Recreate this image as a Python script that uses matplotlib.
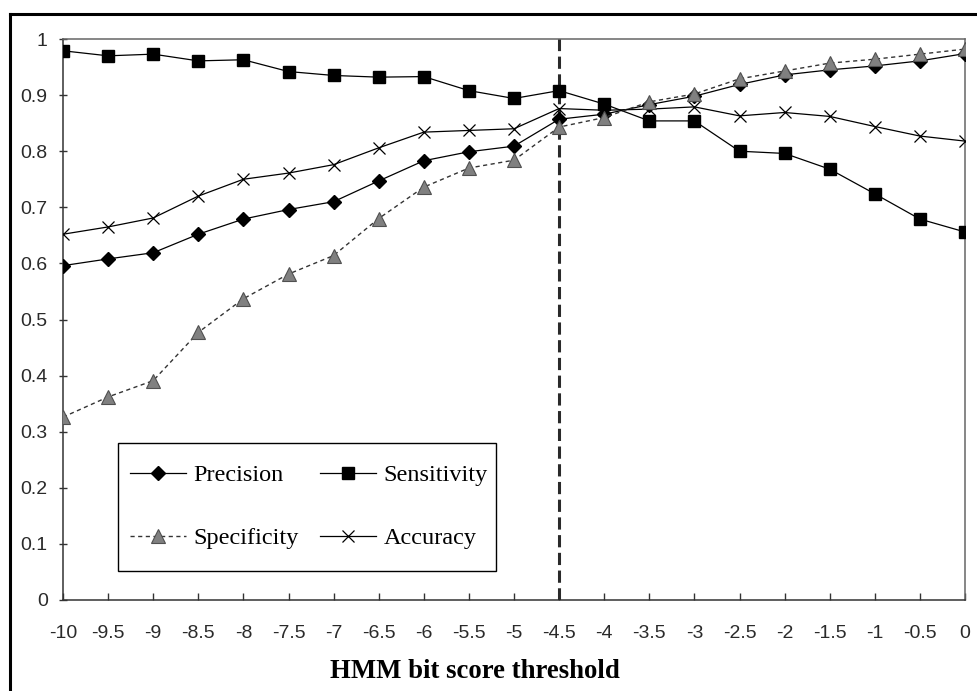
import numpy as np
import matplotlib
matplotlib.use("Agg")
import matplotlib.pyplot as plt
from matplotlib.lines import Line2D
from matplotlib.patches import Rectangle

## data
thresholds = [-10, -9.5, -9, -8.5, -8, -7.5, -7, -6.5, -6, -5.5, -5,
              -4.5, -4, -3.5, -3, -2.5, -2, -1.5, -1, -0.5, 0]
precision = [0.596, 0.608, 0.619, 0.652, 0.679, 0.696, 0.710, 0.747, 0.783, 0.799, 0.809,
             0.857, 0.866, 0.883, 0.898, 0.919, 0.936, 0.945, 0.952, 0.961, 0.974]
sensitivity = [0.979, 0.970, 0.973, 0.961, 0.963, 0.942, 0.935, 0.932, 0.933, 0.908, 0.894,
               0.908, 0.884, 0.854, 0.854, 0.800, 0.796, 0.768, 0.724, 0.679, 0.656]
specificity = [0.326, 0.362, 0.391, 0.477, 0.537, 0.581, 0.614, 0.680, 0.736, 0.770, 0.784,
               0.843, 0.860, 0.888, 0.902, 0.929, 0.943, 0.957, 0.964, 0.973, 0.982]
accuracy = [0.652, 0.665, 0.681, 0.720, 0.750, 0.761, 0.776, 0.806, 0.834, 0.837, 0.840,
            0.876, 0.873, 0.875, 0.879, 0.863, 0.869, 0.862, 0.844, 0.827, 0.818]
cutoff = -4.5

x_labels = ['-10', '-9.5', '-9', '-8.5', '-8', '-7.5', '-7', '-6.5', '-6', '-5.5', '-5',
            '-4.5', '-4', '-3.5', '-3', '-2.5', '-2', '-1.5', '-1', '-0.5', '0']
y_ticks = [0, 0.1, 0.2, 0.3, 0.4, 0.5, 0.6, 0.7, 0.8, 0.9, 1]
y_labels = ['0', '0.1', '0.2', '0.3', '0.4', '0.5', '0.6', '0.7', '0.8', '0.9', '1']

W, H = 977, 691
AX_L, AX_R, AX_T, AX_B = 63, 965, 39, 600   # plot area in pixels
fig = plt.figure(figsize=(W/100, H/100), dpi=100)
ax = fig.add_axes([AX_L/W, 1-AX_B/H, (AX_R-AX_L)/W, (AX_B-AX_T)/H])

## outer frame (clipped on the right and bottom, as in the scan)
fig.add_artist(Line2D([9.5/W, 9.5/W], [0, 1-14/H], color='black', lw=2.2, transform=fig.transFigure))
fig.add_artist(Line2D([9.5/W, 1], [1-14/H, 1-14/H], color='black', lw=2.2, transform=fig.transFigure))

## series
ax.plot(thresholds, precision, color='black', lw=0.9, marker='D', ms=7,
        mfc='black', mec='black', label='Precision', zorder=4)
ax.plot(thresholds, sensitivity, color='black', lw=0.9, marker='s', ms=9,
        mfc='black', mec='black', label='Sensitivity', zorder=4)
ax.plot(thresholds, specificity, color='#333333', lw=1.0, ls=(0, (3, 2.5)), marker='^', ms=10,
        mfc='#808080', mec='#505050', mew=0.8, label='Specificity', zorder=5)
ax.plot(thresholds, accuracy, color='black', lw=0.9, marker='x', ms=8, mew=0.9,
        label='Accuracy', zorder=4)

## threshold marker
ax.axvline(cutoff, color='#2a2a2a', lw=2.2, ls=(0, (4, 1.8)), zorder=3)

ax.set_xlim(-10, 0)
ax.set_ylim(0, 1)
ax.set_xticks(thresholds)
ax.set_xticklabels(x_labels)
ax.set_yticks(y_ticks)
ax.set_yticklabels(y_labels)
ax.tick_params(axis='x', direction='in', length=5, width=1, pad=18, colors='#333333',
               labelsize=14, labelcolor='#2a2a2a')
ax.tick_params(axis='y', direction='inout', length=6, width=1, pad=8, colors='#333333',
               labelsize=14, labelcolor='#2a2a2a')
for lab in ax.get_xticklabels() + ax.get_yticklabels():
    lab.set_family('Liberation Sans')
for side in ['left', 'bottom']:
    ax.spines[side].set_color('#333333')
    ax.spines[side].set_linewidth(1.1)
for side in ['top', 'right']:
    ax.spines[side].set_color('#666666')
    ax.spines[side].set_linewidth(1.1)

## legend box drawn on its own, entries placed inside it
def px_to_ax(px, py):
    return (px-AX_L)/(AX_R-AX_L), (AX_B-py)/(AX_B-AX_T)

bx0, by0 = px_to_ax(118, 571)
bx1, by1 = px_to_ax(496, 443)
ax.add_patch(Rectangle((bx0, by0), bx1-bx0, by1-by0, transform=ax.transAxes,
                       facecolor='white', edgecolor='black', lw=1.0, zorder=6))

h, l = ax.get_legend_handles_labels()
order = [0, 2, 1, 3]   # legend fills column by column
ax_anchor = px_to_ax(130, 464)
leg = ax.legend([h[i] for i in order], [l[i] for i in order], ncol=2,
                loc='upper left', bbox_to_anchor=ax_anchor,
                prop={'family': 'Liberation Serif', 'size': 17.5},
                frameon=False, handlelength=2.3, handletextpad=0.3, columnspacing=0.9,
                labelspacing=1.7, borderpad=0, borderaxespad=0)
leg.set_zorder(7)

fig.text(475/W, 1-671/H, 'HMM bit score threshold', ha='center', va='center',
         family='Liberation Serif', fontweight='bold', fontsize=19.3)

plt.savefig('out.png', dpi=100)
plt.close()
